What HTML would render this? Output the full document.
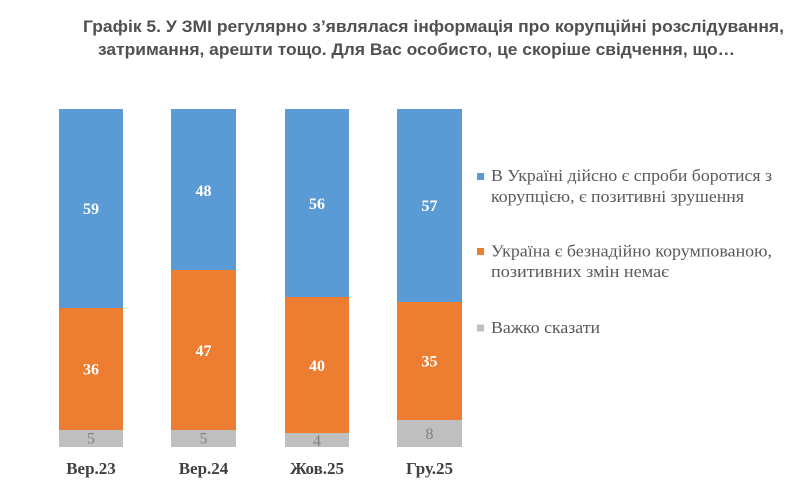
<!DOCTYPE html>
<html>
<head>
<meta charset="utf-8">
<style>
html,body{margin:0;padding:0;background:#fff;}
svg{display:block;}
.t{font-family:"Liberation Sans",Arial,sans-serif;font-weight:bold;font-size:16.5px;fill:#505050;}
.v{font-family:"Liberation Serif","Times New Roman",serif;font-weight:bold;font-size:16px;fill:#fff;text-anchor:middle;}
.g{font-family:"Liberation Serif","Times New Roman",serif;font-size:16px;fill:#808080;text-anchor:middle;}
.c{font-family:"Liberation Serif","Times New Roman",serif;font-weight:bold;font-size:17px;fill:#404040;text-anchor:middle;}
.l{font-family:"Liberation Serif","Times New Roman",serif;font-size:16.5px;fill:#595959;}
</style>
</head>
<body>
<svg width="788" height="491" viewBox="0 0 788 491" xmlns="http://www.w3.org/2000/svg">
<rect width="788" height="491" fill="#fff"/>
<text class="t" x="83" y="32" textLength="701" lengthAdjust="spacingAndGlyphs">Графік 5. У ЗМІ регулярно з’являлася інформація про корупційні розслідування,</text>
<text class="t" x="98" y="55" textLength="637" lengthAdjust="spacingAndGlyphs">затримання, арешти тощо. Для Вас особисто, це скоріше свідчення, що…</text>

<!-- Bar 1 -->
<rect x="59" y="109" width="64" height="199" fill="#5B9BD5"/>
<rect x="59" y="308" width="64" height="122" fill="#ED7D31"/>
<rect x="59" y="430" width="64" height="17" fill="#BFBFBF"/>
<text class="v" x="91" y="214">59</text>
<text class="v" x="91" y="374.5">36</text>
<text class="g" x="91" y="443.5">5</text>

<!-- Bar 2 -->
<rect x="171" y="109" width="65" height="161" fill="#5B9BD5"/>
<rect x="171" y="270" width="65" height="160" fill="#ED7D31"/>
<rect x="171" y="430" width="65" height="17" fill="#BFBFBF"/>
<text class="v" x="203.5" y="196">48</text>
<text class="v" x="203.5" y="356">47</text>
<text class="g" x="203.5" y="443.5">5</text>

<!-- Bar 3 -->
<rect x="285" y="109" width="64" height="188" fill="#5B9BD5"/>
<rect x="285" y="297" width="64" height="136" fill="#ED7D31"/>
<rect x="285" y="433" width="64" height="14" fill="#BFBFBF"/>
<text class="v" x="317" y="209">56</text>
<text class="v" x="317" y="371">40</text>
<text class="g" x="317" y="446">4</text>

<!-- Bar 4 -->
<rect x="397" y="109" width="65" height="193" fill="#5B9BD5"/>
<rect x="397" y="302" width="65" height="118" fill="#ED7D31"/>
<rect x="397" y="420" width="65" height="27" fill="#BFBFBF"/>
<text class="v" x="429.5" y="211">57</text>
<text class="v" x="429.5" y="366.5">35</text>
<text class="g" x="429.5" y="439">8</text>

<!-- Category labels -->
<text class="c" x="91" y="474">Вер.23</text>
<text class="c" x="203.5" y="474">Вер.24</text>
<text class="c" x="317" y="474">Жов.25</text>
<text class="c" x="429.5" y="474">Гру.25</text>

<!-- Legend -->
<rect x="477" y="173" width="7" height="7" fill="#5B9BD5"/>
<text class="l" x="491" y="181" textLength="281" lengthAdjust="spacingAndGlyphs">В Україні дійсно є спроби боротися з</text>
<text class="l" x="491" y="202" textLength="253" lengthAdjust="spacingAndGlyphs">корупцією, є позитивні зрушення</text>

<rect x="477" y="248" width="7" height="7" fill="#ED7D31"/>
<text class="l" x="491" y="256.5" textLength="281" lengthAdjust="spacingAndGlyphs">Україна є безнадійно корумпованою,</text>
<text class="l" x="491" y="277" textLength="178" lengthAdjust="spacingAndGlyphs">позитивних змін немає</text>

<rect x="477" y="324.5" width="7" height="7" fill="#BFBFBF"/>
<text class="l" x="491" y="333" textLength="109" lengthAdjust="spacingAndGlyphs">Важко сказати</text>
</svg>
</body>
</html>
